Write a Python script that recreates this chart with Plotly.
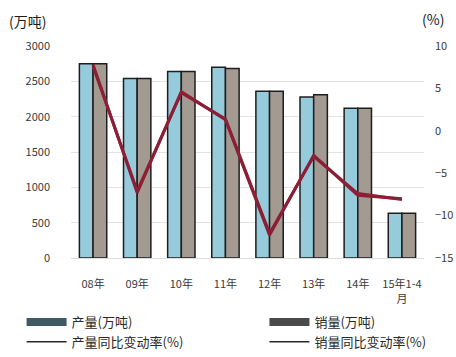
import plotly.graph_objects as go

categories = ["08年", "09年", "10年", "11年", "12年", "13年", "14年", "15年1-4<br>月"]
production = [2750, 2540, 2640, 2700, 2360, 2280, 2120, 635]
sales = [2750, 2540, 2640, 2680, 2360, 2310, 2120, 635]
prod_rate = [7.8, -7.3, 4.6, 1.3, -12.3, -2.9, -7.6, -8.0]
sales_rate = [7.6, -7.1, 4.5, 1.4, -12.1, -3.0, -7.4, -8.1]
left_ticks = [0, 500, 1000, 1500, 2000, 2500, 3000]
right_ticks = [-15, -10, -5, 0, 5, 10]
series_names = ["产量(万吨)", "销量(万吨)", "产量同比变动率(%)", "销量同比变动率(%)"]

FONT = "Noto Sans CJK SC, Noto Sans, sans-serif"
LINE_COLOR = "#8c1f35"
TICK_COLOR = "#3a3a3a"

fig = go.Figure()
fig.add_trace(go.Bar(x=categories, y=production, name=series_names[0], showlegend=False,
                     marker=dict(color="#96cbdb", line=dict(color="#1e1e1e", width=1.5))))
fig.add_trace(go.Bar(x=categories, y=sales, name=series_names[1], showlegend=False,
                     marker=dict(color="#a39a92", line=dict(color="#1e1e1e", width=1.5))))
fig.add_trace(go.Scatter(x=categories, y=prod_rate, name=series_names[2], yaxis="y2", showlegend=False,
                         mode="lines", line=dict(color=LINE_COLOR, width=3)))
fig.add_trace(go.Scatter(x=categories, y=sales_rate, name=series_names[3], yaxis="y2", showlegend=False,
                         mode="lines", line=dict(color=LINE_COLOR, width=3)))

# legend entries (styled like the reference: wide bar swatch, thin dark line)
legend_styles = [
    ("legend", dict(color="#3f5a62", width=8)),
    ("legend2", dict(color="#4a4a4a", width=8)),
    ("legend", dict(color="#2a2a2a", width=1.5)),
    ("legend2", dict(color="#2a2a2a", width=1.5)),
]
for name, (lg, ln) in zip(series_names, legend_styles):
    fig.add_trace(go.Scatter(x=[None], y=[None], mode="lines", name=name, legend=lg,
                             line=ln, hoverinfo="skip"))

legend_common = dict(orientation="v", xanchor="left", yanchor="top", y=-0.231,
                     font=dict(size=13, color="#2a2a2a"), tracegroupgap=0,
                     bgcolor="rgba(0,0,0,0)", itemwidth=40)

fig.update_layout(
    width=456, height=357,
    margin=dict(l=71, r=32, t=46, b=99, autoexpand=False),
    paper_bgcolor="white", plot_bgcolor="white",
    font=dict(family=FONT, size=11, color=TICK_COLOR),
    barmode="group", bargap=0.38, bargroupgap=0.0,
    showlegend=True,
    legend=dict(x=-0.14, **legend_common),
    legend2=dict(x=0.548, **legend_common),
    xaxis=dict(showgrid=False, showline=True, linecolor="#dddddd", ticks="",
               ticklabelstandoff=16, tickfont=dict(size=11, color=TICK_COLOR)),
    yaxis=dict(range=[0, 3000], tickvals=left_ticks, showgrid=True, gridcolor="#e3e3e3",
               gridwidth=1, zeroline=False, ticks="", ticklabelstandoff=20,
               tickfont=dict(size=11, color=TICK_COLOR)),
    yaxis2=dict(range=[-15, 10], tickvals=right_ticks, overlaying="y", side="right",
                showgrid=False, zeroline=False, ticks="", ticklabelstandoff=10,
                tickfont=dict(size=11, color=TICK_COLOR)),
    annotations=[
        dict(text="(万吨)", xref="paper", yref="paper", x=-0.18, y=1.06, xanchor="left",
             yanchor="bottom", showarrow=False, font=dict(size=14, color="#1a1a1a")),
        dict(text="(%)", xref="paper", yref="paper", x=0.99, y=1.07, xanchor="left",
             yanchor="bottom", showarrow=False, font=dict(size=14, color="#1a1a1a")),
    ],
)

fig.write_html("out.html")
